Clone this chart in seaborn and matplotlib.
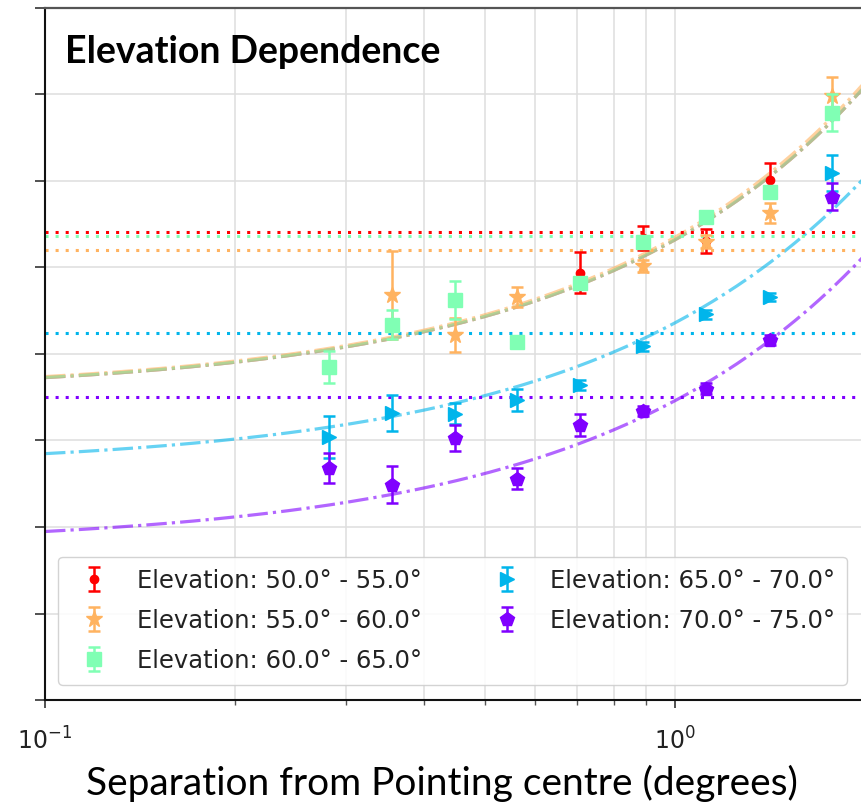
import numpy as np
import pandas as pd
import matplotlib
matplotlib.use("Agg")
import matplotlib.pyplot as plt
import seaborn as sns

# Angular separation of each bin from the pointing centre (degrees)
sep = [0.282, 0.355, 0.447, 0.562, 0.708, 0.891, 1.122, 1.413, 1.778]

labels = [
    "Elevation: 50.0\u00b0 - 55.0\u00b0",
    "Elevation: 55.0\u00b0 - 60.0\u00b0",
    "Elevation: 60.0\u00b0 - 65.0\u00b0",
    "Elevation: 65.0\u00b0 - 70.0\u00b0",
    "Elevation: 70.0\u00b0 - 75.0\u00b0",
]

# Measured values per elevation band (None = no measurement in that bin)
el_50_55 = [None, None, None, None, 4.94, 5.34, 5.31, 6.01, None]
el_50_55_err = [None, None, None, None, 0.24, 0.14, 0.14, 0.20, None]

el_55_60 = [None, 4.68, 4.22, 4.66, None, 5.02, 5.30, 5.63, 6.98]
el_55_60_err = [None, 0.51, 0.20, 0.12, None, 0.07, 0.08, 0.12, 0.22]

el_60_65 = [3.85, 4.34, 4.62, 4.14, 4.82, 5.30, 5.58, 5.87, 6.79]
el_60_65_err = [0.19, 0.17, 0.22, 0.05, 0.05, 0.06, 0.05, 0.06, 0.21]

el_65_70 = [3.04, 3.32, 3.31, 3.47, 3.64, 4.09, 4.46, 4.66, 6.09]
el_65_70_err = [0.24, 0.21, 0.12, 0.13, 0.06, 0.05, 0.05, 0.05, 0.21]

el_70_75 = [2.68, 2.49, 3.03, 2.56, 3.18, 3.34, 3.60, 4.16, 5.82]
el_70_75_err = [0.17, 0.21, 0.15, 0.12, 0.13, 0.06, 0.06, 0.06, 0.16]

# Reference level for each band (dotted horizontal lines)
ref_level = [5.41, 5.20, 5.36, 4.24, 3.50]

# Linear fit per band: value = intercept + slope * separation
fit_intercept = [3.55, 3.56, 3.55, 2.68, 1.78]
fit_slope = [1.77, 1.79, 1.77, 1.68, 1.68]

values = [el_50_55, el_55_60, el_60_65, el_65_70, el_70_75]
errors = [el_50_55_err, el_55_60_err, el_60_65_err, el_65_70_err, el_70_75_err]

colors = ["#ff0000", "#ffb360", "#80ffb4", "#00b5eb", "#8000ff"]
markers = ["o", "*", "s", ">", "p"]
msizes = [6, 12, 10.5, 10, 10.5]

sns.set_theme(style="whitegrid")
plt.rcParams["font.family"] = ["DejaVu Sans"]

fig = plt.figure(figsize=(8.61, 8.05), dpi=100)
ax = fig.add_axes([45 / 861, 105 / 805, 819.6 / 861, 692 / 805])
ax.set_facecolor("white")

ax.set_xscale("log")
ax.set_xlim(0.1, 2.0)
ax.set_ylim(0, 8)

# fitted trends
xfit = np.geomspace(0.1, 2.0, 200)
for i in range(5):
    fit_df = pd.DataFrame({"x": xfit, "y": fit_intercept[i] + fit_slope[i] * xfit})
    sns.lineplot(data=fit_df, x="x", y="y", ax=ax, color=colors[i], lw=2.3,
                 alpha=0.6, legend=False, zorder=2)
    ax.lines[-1].set_linestyle("-.")

# reference levels
for i in range(5):
    ax.axhline(ref_level[i], color=colors[i], lw=2.2, ls=(0, (1, 2.3)), zorder=2)

# measurements with error bars
for i in range(5):
    df = pd.DataFrame({"x": sep, "y": values[i], "e": errors[i]}).dropna()
    ax.errorbar(df["x"], df["y"], yerr=df["e"], fmt=markers[i], color=colors[i],
                ms=msizes[i], elinewidth=1.8, capsize=4, capthick=1.8,
                label=labels[i], zorder=3 + i * 0.1)

ax.grid(True, which="major", color="#dedede", lw=1.1)
ax.grid(True, which="minor", axis="x", color="#dedede", lw=1.1)
ax.set_axisbelow(True)

ax.set_yticks(range(9))
ax.yaxis.set_ticklabels([])
ax.tick_params(axis="y", which="major", left=True, length=7, width=1.2, color="#333333")
ax.tick_params(axis="x", which="major", bottom=True, length=6, width=1.2,
               color="#333333", labelsize=17, pad=14, labelcolor="#222222")
ax.tick_params(axis="x", which="minor", bottom=True, length=3.5, width=1.0,
               color="#555555")
ax.set_xlabel("")
ax.set_ylabel("")

for side in ["left", "bottom"]:
    ax.spines[side].set_color("#111111")
    ax.spines[side].set_linewidth(1.5)
ax.spines["top"].set_color("#555555")
ax.spines["top"].set_linewidth(1.6)
ax.spines["right"].set_visible(False)

leg = ax.legend(loc="lower left", bbox_to_anchor=(13 / 819.6, 15 / 692), ncol=2,
                fontsize=17.5, frameon=True, borderaxespad=0, columnspacing=2.5,
                handlelength=2.0, handletextpad=0.75, labelspacing=0.66,
                borderpad=0.5)
leg.get_frame().set_edgecolor("#cccccc")
leg.get_frame().set_alpha(0.85)
for t in leg.get_texts():
    t.set_color("#222222")

ax.text(20 / 819.6, (700 - 63) / 692, "Elevation Dependence", transform=ax.transAxes,
        fontsize=27, fontweight="bold", family=["Lato", "DejaVu Sans"], va="baseline",
        ha="left", color="black")

fig.text(442 / 861, 1 - 783 / 805, "Separation from Pointing centre (degrees)",
         fontsize=28, family=["Lato", "DejaVu Sans"], ha="center", va="center",
         color="black")

fig.savefig("out.png", dpi=100)
